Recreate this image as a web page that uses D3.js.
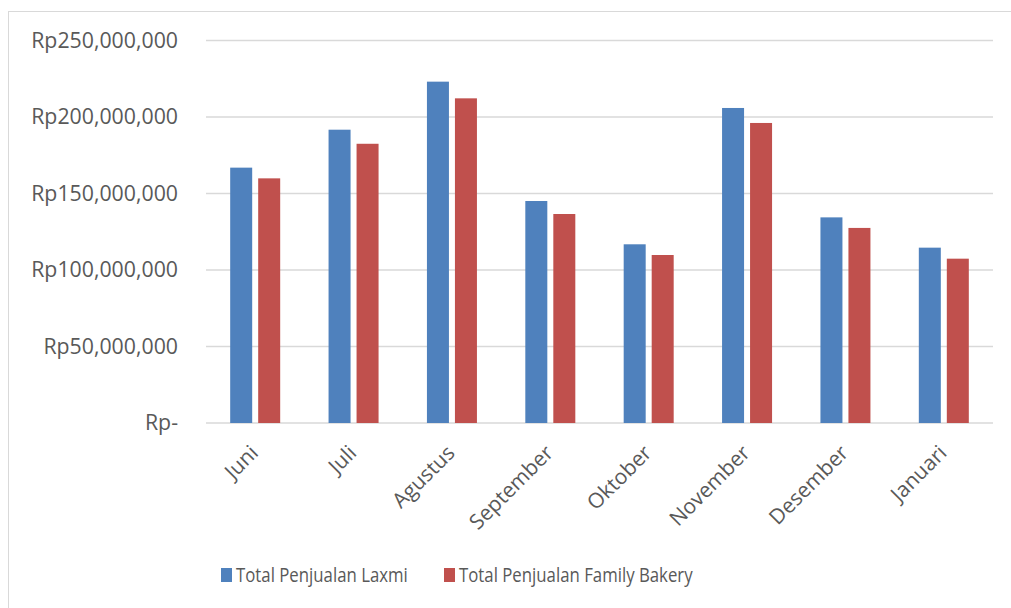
<!DOCTYPE html>
<html>
<head>
<meta charset="utf-8">
<script src="https://cdn.jsdelivr.net/npm/d3@7"></script>
<style>
  body { margin: 0; background: #fff; }
  text { font-family: "Open Sans", "Noto Sans", sans-serif; fill: #595959; }
</style>
</head>
<body>
<div id="chart"></div>
<script>
const months = ['Juni', 'Juli', 'Agustus', 'September', 'Oktober', 'November', 'Desember', 'Januari'];
const laxmi = [166900000, 191700000, 223100000, 145100000, 116800000, 205900000, 134400000, 114600000];
const family = [159900000, 182500000, 212200000, 136600000, 109800000, 196100000, 127500000, 107400000];
const series_names = ['Total Penjualan Laxmi', 'Total Penjualan Family Bakery'];
const series_colors = ['#4F81BD', '#C0504D'];
const y_ticks = [0, 50000000, 100000000, 150000000, 200000000, 250000000];

const width = 1011;
const height = 608;
const margin = { left: 206, right: 18, top: 40.5, bottom: 185 };

const svg = d3.select('#chart').append('svg')
  .attr('width', width)
  .attr('height', height);

// chart frame
svg.append('rect')
  .attr('x', 8.5).attr('y', 11.5)
  .attr('width', 1010).attr('height', 600)
  .attr('fill', 'none')
  .attr('stroke', '#d9d9d9');

const x = d3.scaleBand()
  .domain(months)
  .range([margin.left, width - margin.right])
  .paddingInner(0)
  .paddingOuter(0);

const y = d3.scaleLinear()
  .domain([0, 250000000])
  .range([height - margin.bottom, margin.top]);

const fmt = v => v === 0 ? 'Rp-' : 'Rp' + d3.format(',')(v);

// gridlines
svg.append('g')
  .selectAll('line')
  .data(y_ticks)
  .join('line')
  .attr('x1', margin.left)
  .attr('x2', width - margin.right)
  .attr('y1', d => y(d))
  .attr('y2', d => y(d))
  .attr('stroke', '#d9d9d9')
  .attr('stroke-width', 1.5);

// y labels
svg.append('g')
  .selectAll('text')
  .data(y_ticks)
  .join('text')
  .attr('x', 178)
  .attr('y', d => y(d))
  .attr('dy', '0.35em')
  .attr('text-anchor', 'end')
  .style('font-size', '21.3px')
  .text(fmt);

const barW = 22;
const gap = 6;
const data = months.map((m, i) => ({ month: m, values: [laxmi[i], family[i]] }));

const groups = svg.append('g')
  .selectAll('g')
  .data(data)
  .join('g')
  .attr('transform', d => `translate(${x(d.month) + x.bandwidth() / 2},0)`);

groups.selectAll('rect')
  .data(d => d.values)
  .join('rect')
  .attr('x', (d, i) => i === 0 ? -gap / 2 - barW : gap / 2)
  .attr('y', d => y(d))
  .attr('width', barW)
  .attr('height', d => y(0) - y(d))
  .attr('fill', (d, i) => series_colors[i]);

// x labels
svg.append('g')
  .selectAll('text')
  .data(months)
  .join('text')
  .attr('transform', d => `translate(${x(d) + x.bandwidth() / 2 - 1},${y(0) + 26}) rotate(-45)`)
  .attr('text-anchor', 'end')
  .attr('dy', '0.35em')
  .style('font-size', '21px')
  .text(d => d);

// legend
const legend_x = [221, 444];
const legend = svg.append('g')
  .selectAll('g')
  .data(series_names)
  .join('g')
  .attr('transform', (d, i) => `translate(${legend_x[i]},568)`);

legend.append('rect')
  .attr('width', 11).attr('height', 14)
  .attr('fill', (d, i) => series_colors[i]);

legend.append('text')
  .attr('transform', 'translate(15,7) scale(0.84,1)')
  .attr('dy', '0.35em')
  .style('font-size', '20px')
  .text(d => d);
</script>
</body>
</html>
